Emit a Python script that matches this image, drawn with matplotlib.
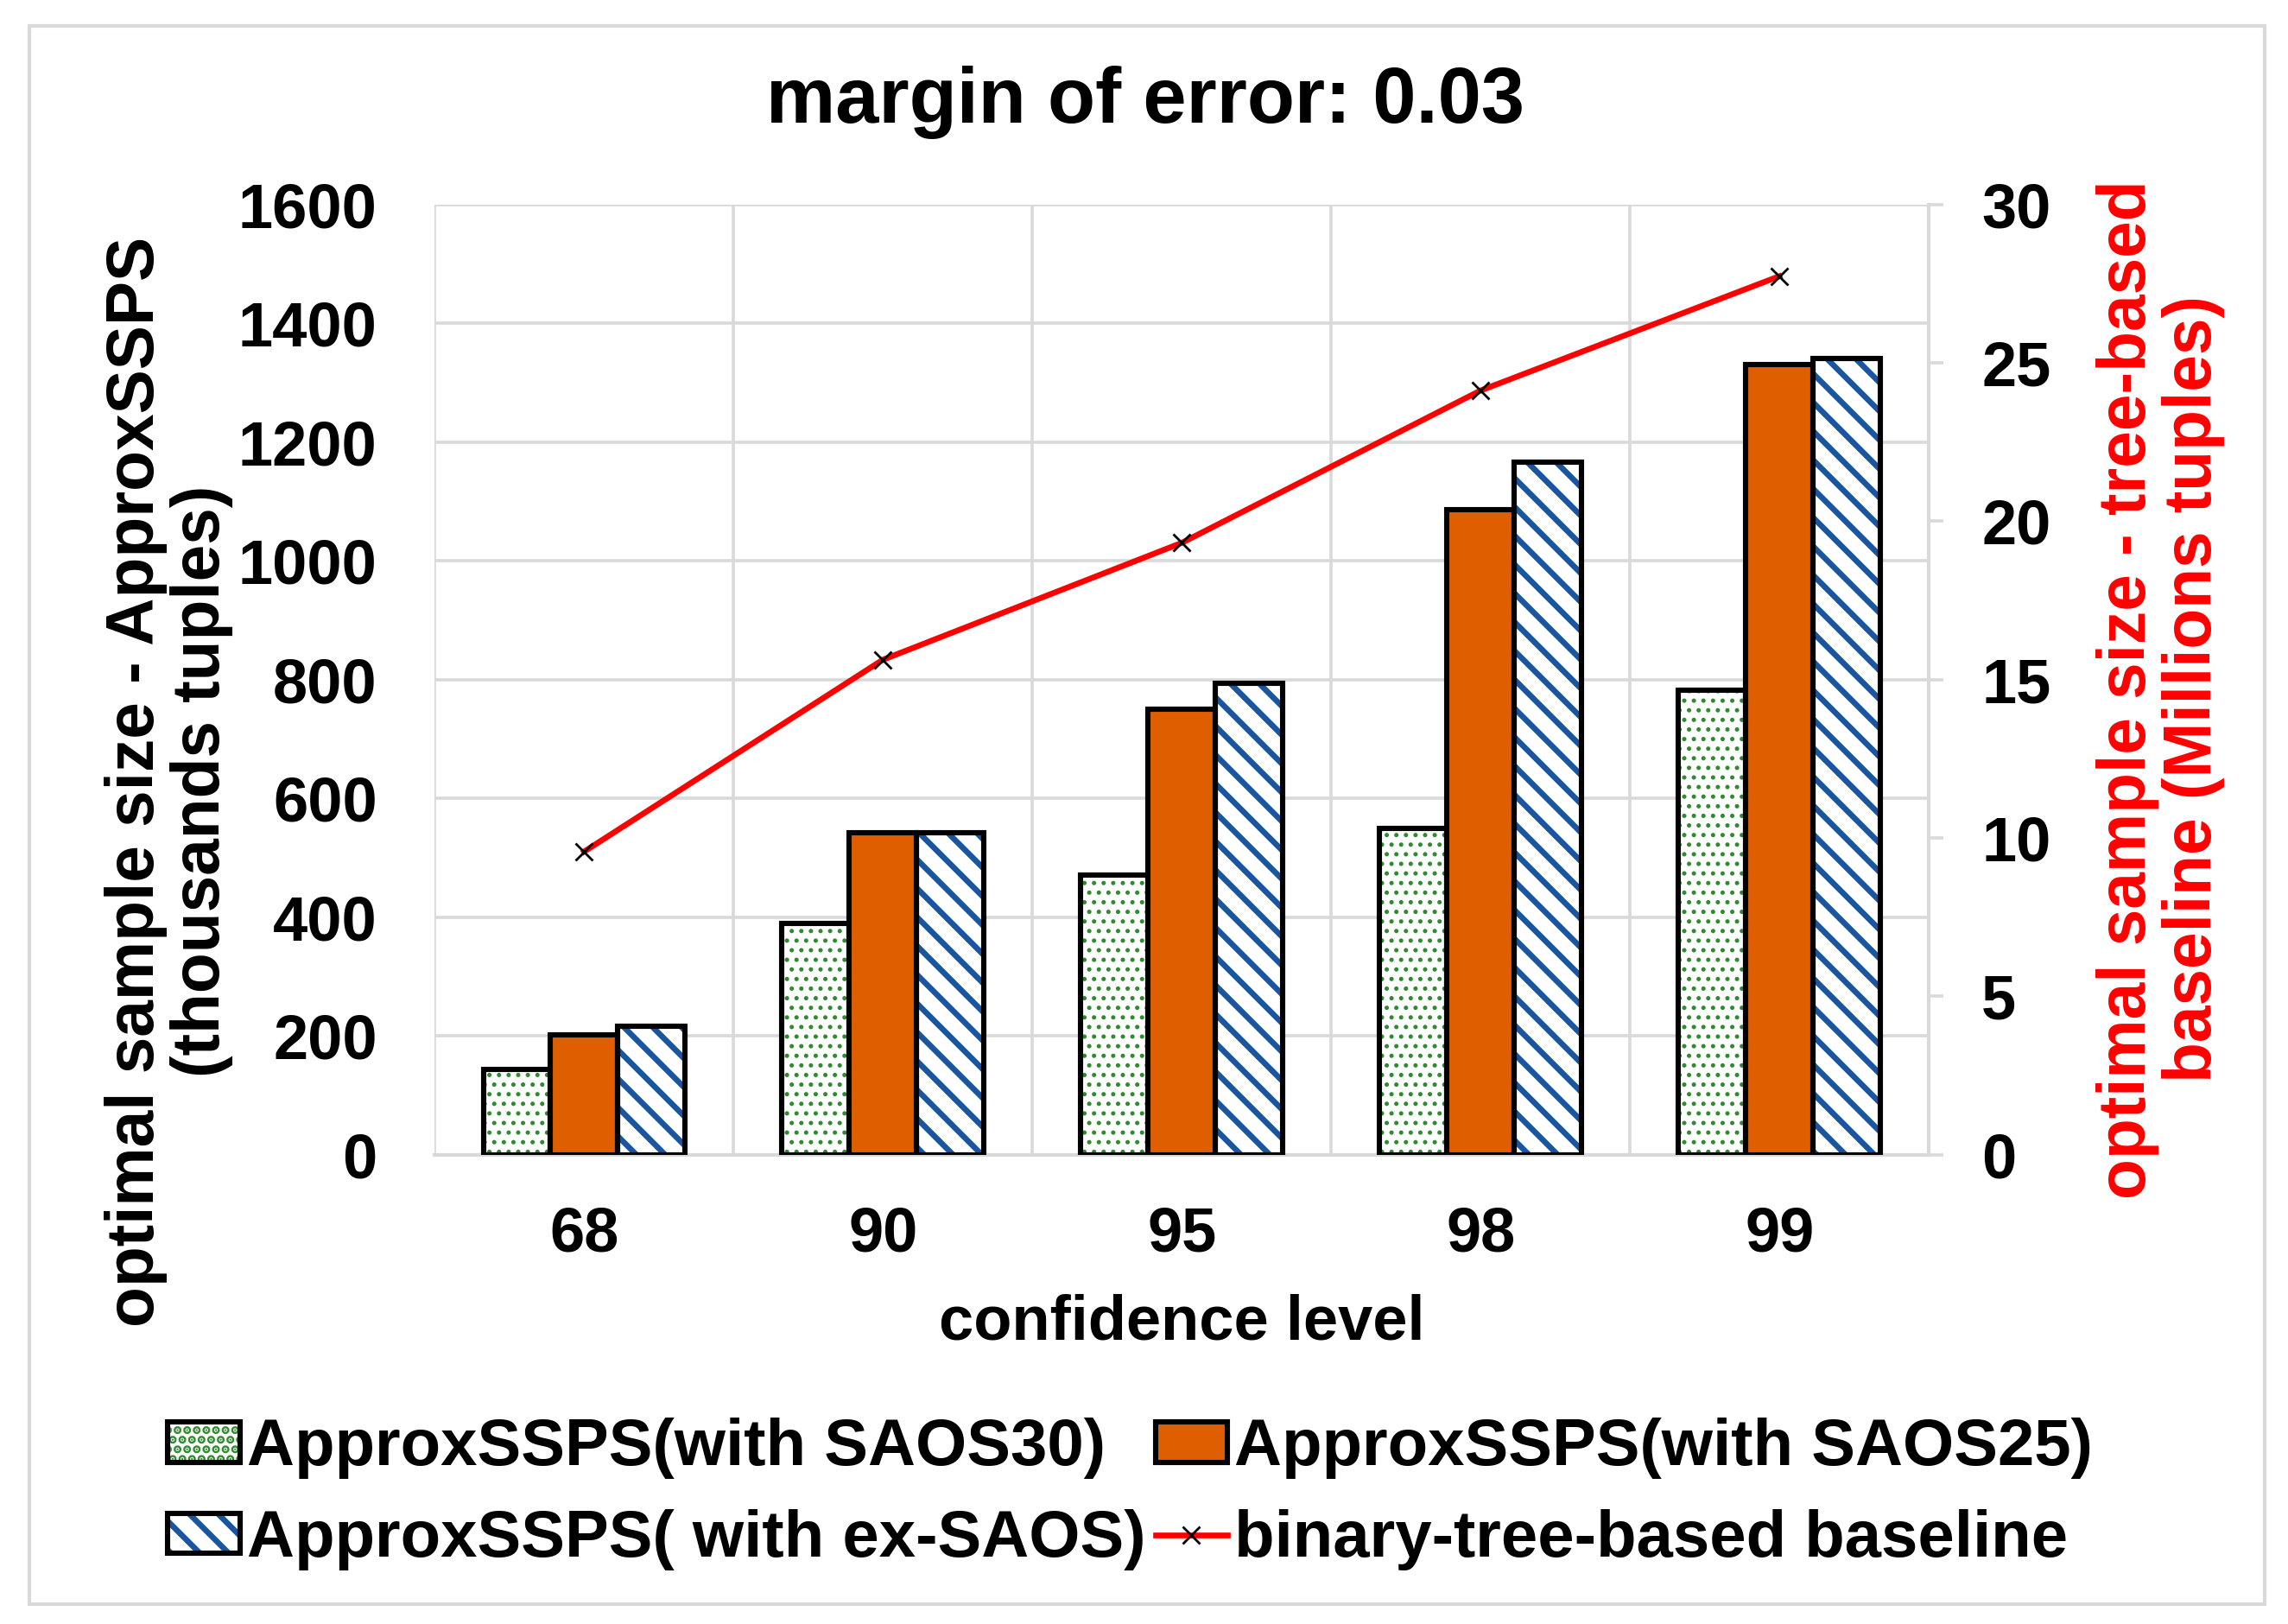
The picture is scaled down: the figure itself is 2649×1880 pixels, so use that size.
import matplotlib
matplotlib.use('Agg')
import matplotlib.pyplot as plt
from matplotlib.patches import Patch, Rectangle
from matplotlib.lines import Line2D
import numpy as np

plt.rcParams['font.family'] = ['Liberation Sans', 'DejaVu Sans']
plt.rcParams['font.weight'] = 'bold'
plt.rcParams['hatch.linewidth'] = 2.4

# values
levels = ['68', '90', '95', '98', '99']
saos30 = [143, 390, 471, 550, 782]        # thousands tuples
saos25 = [202, 542, 750, 1087, 1331]
ex_saos = [217, 542, 794, 1166, 1341]
baseline = [9.57, 15.63, 19.32, 24.13, 27.74]  # millions tuples

labels = ['ApproxSSPS(with SAOS30)', 'ApproxSSPS(with SAOS25)',
          'ApproxSSPS( with ex-SAOS)', 'binary-tree-based baseline']

GREEN = '#2e8b2e'
ORANGE = '#df5f00'
BLUE = '#1a56a0'
RED = '#ff0000'
GRID = '#d9d9d9'
FS = 26

fig = plt.figure(figsize=(13.245, 9.4), dpi=200)
ax = fig.add_axes([0.190, 0.289, 0.653, 0.585])
ax2 = ax.twinx()

x = np.arange(len(levels))
w = 0.225


def set_hlw(bars, lw):
    for b in bars:
        if hasattr(b, 'set_hatch_linewidth'):
            b.set_hatch_linewidth(lw)


b1 = ax.bar(x - w, saos30, w, color='white', edgecolor=GREEN, hatch='...',
            linewidth=0, zorder=2)
set_hlw(b1, 1.0)
ax.bar(x - w, saos30, w, fill=False, edgecolor='black', linewidth=2.2, zorder=3)

ax.bar(x, saos25, w, color=ORANGE, edgecolor='black', linewidth=2.2, zorder=3)

b3 = ax.bar(x + w, ex_saos, w, color='white', edgecolor=BLUE, hatch='\\\\',
            linewidth=0, zorder=2)
set_hlw(b3, 2.4)
ax.bar(x + w, ex_saos, w, fill=False, edgecolor='black', linewidth=2.2, zorder=3)

ax2.plot(x, baseline, color=RED, linewidth=2.4, marker='x', markersize=7,
         markeredgecolor='black', markeredgewidth=1.0, zorder=5)

# axes styling
ax.set_xlim(-0.5, len(levels) - 0.5)
ax.set_ylim(0, 1600)
ax2.set_ylim(0, 30)
ax.set_yticks(np.arange(0, 1601, 200))
ax2.set_yticks(np.arange(0, 31, 5))
ax.set_xticks(x)
ax.set_xticklabels(levels)
ax.set_xticks(np.arange(-0.5, len(levels), 1), minor=True)
ax.set_axisbelow(True)
ax.grid(axis='y', which='major', color=GRID, linewidth=1.3)
ax.grid(axis='x', which='minor', color=GRID, linewidth=1.3)
ax.tick_params(axis='x', which='both', length=0, labelsize=FS, pad=21)
ax.tick_params(axis='y', length=0, labelsize=FS, pad=24)
ax2.tick_params(axis='y', length=6, width=1.3, color=GRID, labelsize=FS, pad=16)

for a in (ax, ax2):
    for s in a.spines.values():
        s.set_visible(False)
ax.spines['bottom'].set_visible(True)
ax.spines['bottom'].set_color(GRID)
ax.spines['bottom'].set_linewidth(1.5)
ax2.spines['right'].set_visible(True)
ax2.spines['right'].set_color(GRID)
ax2.spines['right'].set_linewidth(1.5)

ax.set_ylabel('optimal sample size - ApproxSSPS\n(thousands tuples)',
              fontsize=27.6, fontweight='bold', linespacing=1.05)
ax.yaxis.set_label_coords(-0.135, 0.393)
ax2.set_ylabel('optimal sample size - tree-based\nbaseline (Millions tuples)',
               fontsize=27.6, fontweight='bold', color=RED, linespacing=1.05,
               rotation=90)
ax2.yaxis.set_label_coords(1.112, 0.49)
ax.set_xlabel('confidence level', fontsize=FS, fontweight='bold')
ax.xaxis.set_label_coords(0.5, -0.146)

fig.text(0.5006, 0.9370, 'margin of error: 0.03', fontsize=32.5,
         fontweight='bold', ha='center', va='center')

# legend
h1 = (Patch(facecolor='white', edgecolor=GREEN, hatch='...', linewidth=0),
      Patch(fill=False, edgecolor='black', linewidth=2.2))
h2 = Patch(facecolor=ORANGE, edgecolor='black', linewidth=2.2)
h3 = (Patch(facecolor='white', edgecolor=BLUE, hatch='\\\\', linewidth=0),
      Patch(fill=False, edgecolor='black', linewidth=2.2))
h4 = Line2D([], [], color=RED, linewidth=2.4, marker='x', markersize=7,
            markeredgecolor='black', markeredgewidth=1.0)
fig.legend([h1, h3, h2, h4], [labels[0], labels[2], labels[1], labels[3]],
           ncol=2, loc='center', bbox_to_anchor=(0.494, 0.080), frameon=False,
           fontsize=27.4, handlelength=1.1, handleheight=0.56,
           handletextpad=0.1, columnspacing=0.15, labelspacing=0.45,
           borderpad=0)

fig.patches.append(Rectangle((0.0128, 0.012), 0.977, 0.972,
                             transform=fig.transFigure, fill=False,
                             edgecolor=GRID, linewidth=1.5))

fig.savefig('out.png', dpi=200)
